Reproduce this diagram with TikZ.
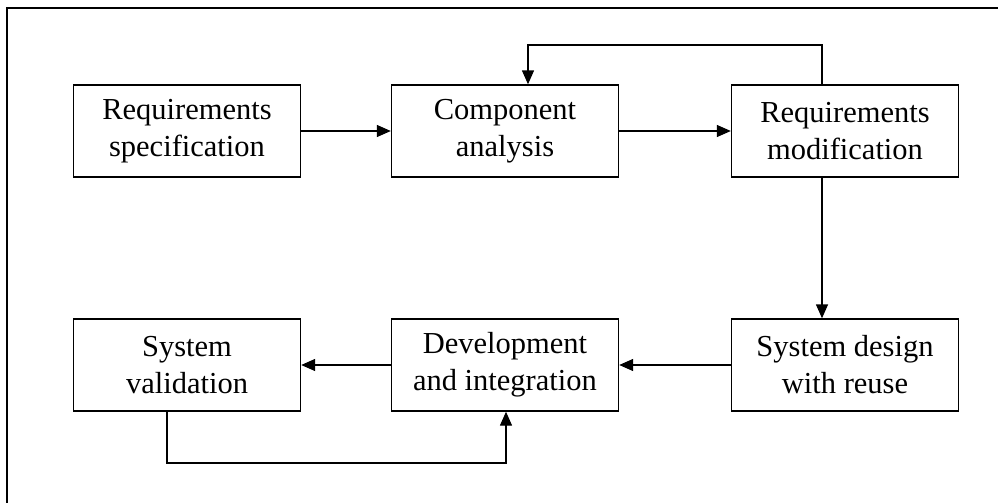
\documentclass[tikz,border=0pt]{standalone}
\usepackage{fontspec}
\setmainfont{Liberation Serif}
\usetikzlibrary{arrows.meta}
\begin{document}
\begin{tikzpicture}[x=1pt,y=-1pt,
  box/.style={draw,line width=1.4pt,minimum width=227pt,minimum height=92pt,align=center,inner sep=0pt,
    font=\fontsize{30.5}{37}\selectfont},
  conn/.style={line width=1.4pt,-{Triangle[length=14pt,width=12pt]}}]
\useasboundingbox (0,0) rectangle (998,503);
\fill[white] (0,0) rectangle (998,503);
\draw[line width=1.4pt] (7,510) -- (7,8) -- (1005,8);
\node[box] (rs) at (187,131) {Requirements\\specification};
\node[box] (ca) at (505,131) {Component\\analysis};
\node[box] (rm) at (845,131) {Requirements\\modification};
\node[box] (sv) at (187,365) {System\\validation};
\node[box] (di) at (505,365) {Development\\and integration};
\node[box] (sd) at (845,365) {System design\\with reuse};
\coordinate (lt) at (822,45);
\coordinate (lb) at (167,463);
\draw[conn] (rm.north -| lt) -- (lt) -| (ca.north -| 528,0);
\draw[conn] (rs) -- (ca);
\draw[conn] (ca) -- (rm);
\draw[conn] (rm.south -| lt) -- (sd.north -| lt);
\draw[conn] (sd) -- (di);
\draw[conn] (di) -- (sv);
\draw[conn] (sv.south -| lb) -- (lb) -| (di.south -| 506,0);
\end{tikzpicture}
\end{document}
